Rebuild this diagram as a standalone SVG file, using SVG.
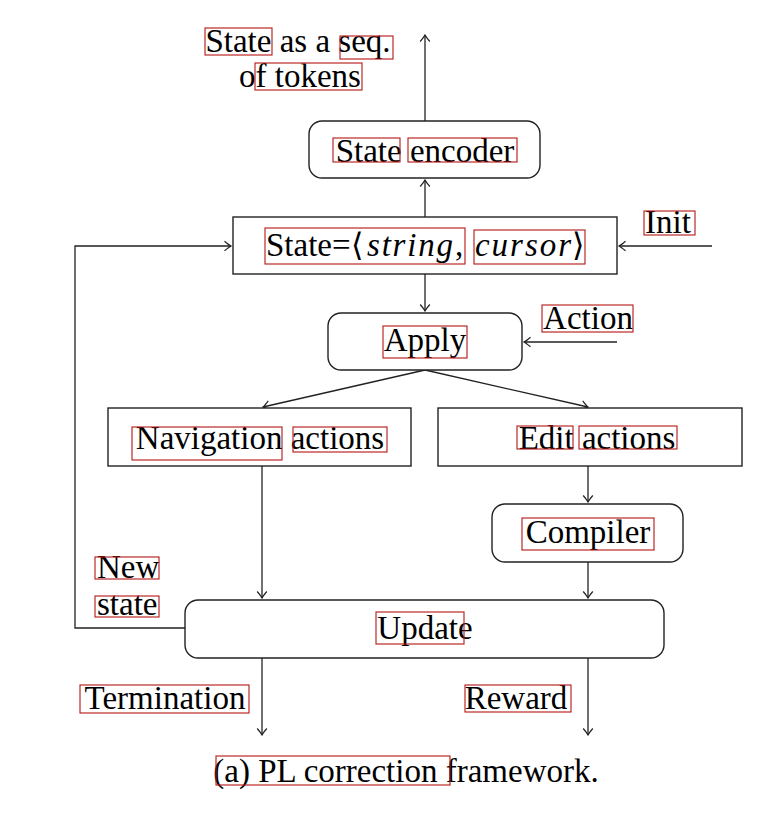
<svg xmlns="http://www.w3.org/2000/svg" width="770" height="818" viewBox="0 0 770 818">
<style>
.t{font-family:"Liberation Serif","Times New Roman","DejaVu Serif",serif;font-size:33px;fill:#000}
.m{font-family:"Liberation Serif","Times New Roman",serif;font-style:italic}
.br{font-family:"DejaVu Serif",serif;font-size:32px}
.box{fill:#fff;stroke:#222;stroke-width:1.4}
.c{fill:none;stroke:#222;stroke-width:1.3;marker-end:url(#arr)}
.r{fill:none;stroke:#b51515;stroke-width:1.1}
</style>
<defs>
<marker id="arr" viewBox="-8 -6 10 12" refX="0" refY="0" markerWidth="10" markerHeight="12" orient="auto" markerUnits="userSpaceOnUse">
<path d="M-6.5,-4.8 Q-2,-1 0,0 Q-2,1 -6.5,4.8" fill="none" stroke="#222" stroke-width="1.2"/>
</marker>
</defs>
<rect width="770" height="818" fill="#fff"/>
<g id="connectors">
<path class="c" d="M425,121 V35"/>
<path class="c" d="M425,217 V180"/>
<path class="c" d="M712,246 H619"/>
<path class="c" d="M185,628 H75 V246 H231"/>
<path class="c" d="M425,274 V311"/>
<path class="c" d="M617,342 H524"/>
<path class="c" d="M425,370 L263,407"/>
<path class="c" d="M425,370 L588,407"/>
<path class="c" d="M262,466 V598"/>
<path class="c" d="M588,466 V502"/>
<path class="c" d="M588,562 V598"/>
<path class="c" d="M262,658 V735"/>
<path class="c" d="M588,658 V735"/>
</g>
<g id="label-state-seq">
<text class="t" x="298" y="52" text-anchor="middle">State as a seq.</text>
<text class="t" x="300" y="87" text-anchor="middle">of tokens</text>
</g>
<g id="state-encoder">
<rect class="box" x="309" y="121" width="231" height="57" rx="13"/>
<text class="t" x="425" y="162" text-anchor="middle">State encoder</text>
</g>
<g id="state">
<rect class="box" x="233" y="217" width="384" height="57"/>
<text class="t" y="256"><tspan x="266">State=</tspan><tspan class="br" x="351">⟨</tspan><tspan class="m" x="367" textLength="86" lengthAdjust="spacing">string</tspan><tspan x="455">,</tspan><tspan class="m" x="475" textLength="96" lengthAdjust="spacing">cursor</tspan><tspan class="br" x="572">⟩</tspan></text>
</g>
<g id="init">
<text class="t" x="668" y="233" text-anchor="middle">Init</text>
</g>
<g id="apply">
<rect class="box" x="328" y="313" width="194" height="57" rx="13"/>
<text class="t" x="425" y="351" text-anchor="middle">Apply</text>
</g>
<g id="action">
<text class="t" x="588" y="329" text-anchor="middle">Action</text>
</g>
<g id="navigation-actions">
<rect class="box" x="108" y="408" width="303" height="58"/>
<text class="t" x="260" y="449" text-anchor="middle">Navigation actions</text>
</g>
<g id="edit-actions">
<rect class="box" x="438" y="408" width="304" height="58"/>
<text class="t" x="597" y="449" text-anchor="middle">Edit actions</text>
</g>
<g id="compiler">
<rect class="box" x="492" y="504" width="191" height="58" rx="13"/>
<text class="t" x="588" y="543" text-anchor="middle">Compiler</text>
</g>
<g id="new-state">
<text class="t" x="97" y="578">New</text>
<text class="t" x="97" y="615">state</text>
</g>
<g id="update">
<rect class="box" x="185" y="600" width="479" height="58" rx="13"/>
<text class="t" x="425" y="639" text-anchor="middle">Update</text>
</g>
<g id="termination">
<text class="t" x="165" y="709" text-anchor="middle">Termination</text>
</g>
<g id="reward">
<text class="t" x="516" y="709" text-anchor="middle">Reward</text>
</g>
<g id="caption">
<text class="t" x="406" y="782" text-anchor="middle" font-size="31">(a) PL correction framework.</text>
</g>
<g id="annotation-boxes">
<rect class="r" x="205" y="28" width="67" height="27"/>
<rect class="r" x="340" y="36" width="53" height="23"/>
<rect class="r" x="255" y="63" width="107" height="27"/>
<rect class="r" x="333" y="138" width="67" height="24"/>
<rect class="r" x="408" y="138" width="109" height="24"/>
<rect class="r" x="265" y="228" width="200" height="36"/>
<rect class="r" x="474" y="230" width="111" height="34"/>
<rect class="r" x="644" y="211" width="51" height="24"/>
<rect class="r" x="383" y="326" width="84" height="32"/>
<rect class="r" x="542" y="305" width="91" height="27"/>
<rect class="r" x="132" y="427" width="150" height="33"/>
<rect class="r" x="293" y="427" width="94" height="25"/>
<rect class="r" x="517" y="426" width="56" height="23"/>
<rect class="r" x="579" y="426" width="98" height="23"/>
<rect class="r" x="522" y="518" width="132" height="32"/>
<rect class="r" x="95" y="557" width="64" height="22"/>
<rect class="r" x="95" y="596" width="64" height="21"/>
<rect class="r" x="376" y="612" width="88" height="32"/>
<rect class="r" x="80" y="685" width="169" height="28"/>
<rect class="r" x="465" y="685" width="106" height="27"/>
<rect class="r" x="216" y="756" width="234" height="29"/>
</g>
</svg>
